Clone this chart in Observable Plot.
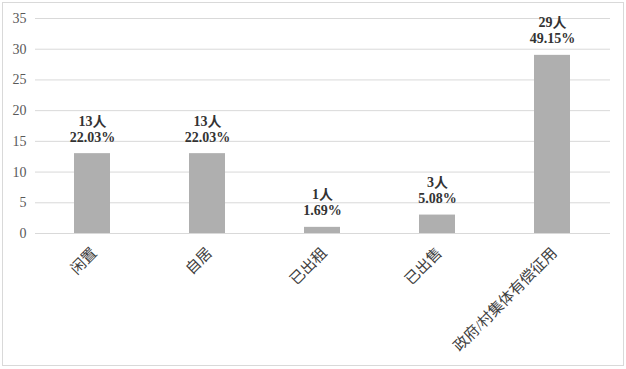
<!DOCTYPE html>
<html><head><meta charset="utf-8">
<script src="https://cdn.jsdelivr.net/npm/d3@7"></script>
<script src="https://cdn.jsdelivr.net/npm/@observablehq/plot@0.6"></script>
<style>
body{margin:0;background:#fff;}
#wrap{position:absolute;left:2px;top:2px;width:620px;height:362px;border:1px solid #d9d9d9;background:#fff;}
#wrap svg{display:block;}
</style></head>
<body><div id="wrap"></div>
<script>
const categories = ["闲置", "自居", "已出租", "已出售", "政府/村集体有偿征用"];
const counts = [13, 13, 1, 3, 29];
const percents = ["22.03%", "22.03%", "1.69%", "5.08%", "49.15%"];
const yTicks = [0, 5, 10, 15, 20, 25, 30, 35];

const data = categories.map((c, i) => ({cat: c, n: counts[i], label: `${counts[i]}人\n${percents[i]}`}));
const font = "'Liberation Serif', 'Noto Sans CJK SC', serif";

const chart = Plot.plot({
  width: 620,
  height: 362,
  marginLeft: 32,
  marginRight: 13,
  marginTop: 15,
  marginBottom: 132,
  style: {fontFamily: font, background: "#fff"},
  x: {domain: categories, paddingInner: 0.685, paddingOuter: 0.3425, label: null},
  y: {domain: [0, 35], label: null},
  marks: [
    Plot.ruleY(yTicks, {stroke: "#d9d9d9", strokeWidth: 1}),
    Plot.axisY({ticks: yTicks, tickSize: 0, tickPadding: 9, fontSize: 14, fill: "#595959", label: null}),
    Plot.axisX({tickSize: 0, tickRotate: -45, tickPadding: 17, dx: 2, fontSize: 15, fill: "#404040", label: null}),
    Plot.barY(data, {x: "cat", y: "n", fill: "#afafaf"}),
    Plot.text(data, {x: "cat", y: "n", text: "label", lineAnchor: "bottom", dy: -12, fontSize: 14, fontWeight: "bold", fill: "#333333", lineHeight: 1.15})
  ]
});
document.getElementById("wrap").appendChild(chart);
</script></body></html>
